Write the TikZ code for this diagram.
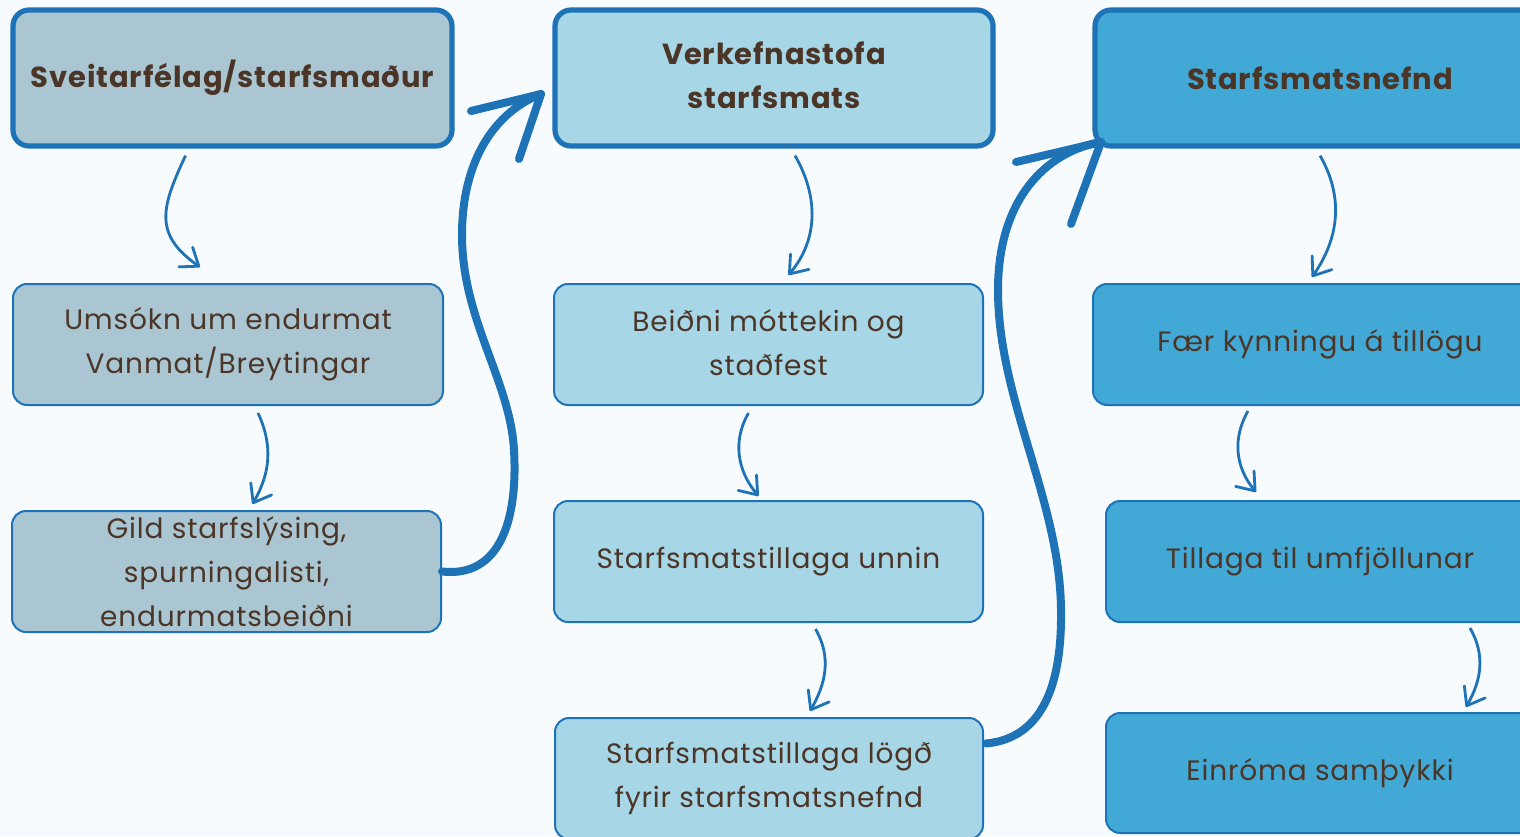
\documentclass[tikz,border=0pt]{standalone}
\usepackage{fontspec}
\setmainfont{Poppins}
\newfontfamily\bodyfont[LetterSpace=3]{Poppins}
\usetikzlibrary{arrows.meta,calc}
\definecolor{bg}{HTML}{F7FBFE}
\definecolor{edge}{HTML}{1E72B6}
\definecolor{txt}{HTML}{4B3526}
\definecolor{colA}{HTML}{AAC6D3}
\definecolor{colB}{HTML}{A7D6E7}
\definecolor{colC}{HTML}{42A8D5}
\begin{document}
\begin{tikzpicture}[x=0.5pt,y=-0.5pt,
  headbox/.style={draw=edge, line width=2.6pt, rounded corners=8pt, minimum height=68pt,
    text=txt, align=center, font=\bodyfont\bfseries\fontsize{14.5}{22}\selectfont, inner sep=0pt},
  stepbox/.style={draw=edge, line width=1pt, rounded corners=7pt, minimum height=60.5pt,
    text=txt, align=center, font=\bodyfont\fontsize{14}{22}\selectfont, inner sep=0pt},
  small/.style={draw=edge, line width=1.4pt, -{Straight Barb[length=8pt,width=12pt,round]}},
  big/.style={draw=edge, line width=4pt, line cap=round, line join=round}
]
\fill[bg] (0,0) rectangle (1520,836);
\useasboundingbox (0,0) rectangle (1520,836);

% column 1
\node[headbox, fill=colA, minimum width=219.5pt] (h1) at (232.5,78) {Sveitarfélag/starfsmaður};
\node[stepbox, fill=colA, minimum width=215pt] (u1) at (228,344.5) {Umsókn um endurmat\\Vanmat/Breytingar};
\node[stepbox, fill=colA, minimum width=214.5pt] (g1) at (226.5,571.5) {Gild starfslýsing,\\spurningalisti,\\endurmatsbeiðni};

% column 2
\node[headbox, fill=colB, minimum width=219pt] (h2) at (774,78) {\raisebox{2pt}{\begin{tabular}{@{}c@{}}Verkefnastofa\\starfsmats\end{tabular}}};
\node[stepbox, fill=colB, minimum width=214.5pt] (b1) at (768.5,344.5) {\raisebox{2pt}{\begin{tabular}{@{}c@{}}Beiðni móttekin og\\staðfest\end{tabular}}};
\node[stepbox, fill=colB, minimum width=214.5pt] (s1) at (768.5,561.5) {Starfsmatstillaga unnin};
\node[stepbox, fill=colB, minimum width=214pt] (l1) at (769,778.5) {Starfsmatstillaga lögð\\fyrir starfsmatsnefnd};

% column 3
\node[headbox, fill=colC, minimum width=225pt] (h3) at (1320,78) {Starfsmatsnefnd};
\node[stepbox, fill=colC, minimum width=227pt] (k1) at (1320,344.5) {Fær kynningu á tillögu};
\node[stepbox, fill=colC, minimum width=214pt] (t1) at (1320,561.5) {Tillaga til umfjöllunar};
\node[stepbox, fill=colC, minimum width=214pt, minimum height=60pt] (e1) at (1320,773) {Einróma samþykki};

% small arrows
\draw[small] ($(h1.south)+(-47,7)$) to[out=245,in=145,looseness=1.3] ($(u1.north)+(-28,-16)$);
\draw[small] ($(u1.south)+(30,7)$) to[out=-65,in=60] ($(g1.north)+(26,-6)$);
\draw[small] ($(h2.south)+(21,7)$) to[out=-60,in=50] ($(b1.north)+(20,-8)$);
\draw[small] ($(b1.south)+(-20,7)$) to[out=240,in=130] ($(s1.north)+(-10,-4)$);
\draw[small] ($(s1.south)+(47,6)$) to[out=-60,in=60] ($(l1.north)+(41,-6)$);
\draw[small] ($(h3.south)+(0,7)$) to[out=-60,in=55] ($(k1.north)+(-8,-6)$);
\draw[small] ($(k1.south)+(-72,5)$) to[out=240,in=130] ($(t1.north)+(-64,-8)$);
\draw[small] ($(t1.south)+(150,5)$) to[out=-60,in=60] ($(e1.north)+(146,-5)$);

% big arrows
\coordinate (tip1) at (541,94);
\coordinate (tip2) at (1101,142);
\draw[big] (g1.east) .. controls (500,578) and (518,520) .. (514,450)
  .. controls (510,380) and (462,320) .. (462,235)
  .. controls (462,160) and (495,112) .. (tip1);
\draw[big] ($(tip1)+(-70,17)$) -- (tip1) -- ($(tip1)+(-22,65)$);
\draw[big] ($(l1.east)+(2,-35)$) .. controls (1045,738) and (1062,680) .. (1061,610)
  .. controls (1060,500) and (998,400) .. (998,290)
  .. controls (998,200) and (1045,152) .. (tip2);
\draw[big] ($(tip2)+(-85,20)$) -- (tip2) -- ($(tip2)+(-30,82)$);
\end{tikzpicture}
\end{document}
